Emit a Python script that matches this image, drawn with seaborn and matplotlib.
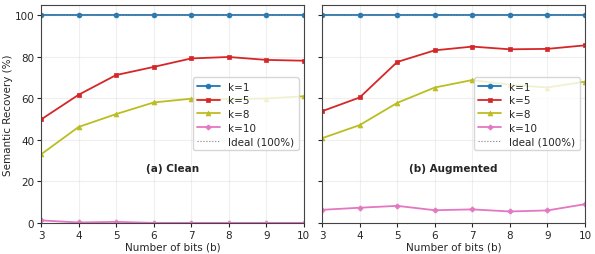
import numpy as np
import pandas as pd
import matplotlib
matplotlib.use("Agg")
import matplotlib.pyplot as plt
import seaborn as sns

sns.set_style("ticks")
plt.rcParams['font.family'] = ['DejaVu Sans']

# ---------------- DATA ----------------
bits = [3, 4, 5, 6, 7, 8, 9, 10]

clean_k1 = [100, 100, 100, 100, 100, 100, 100, 100]
clean_k5 = [49.8, 61.7, 71.2, 75.1, 79.2, 79.9, 78.5, 78.1]
clean_k8 = [33.0, 46.2, 52.4, 58.0, 59.8, 59.6, 59.9, 61.0]
clean_k10 = [1.2, 0.2, 0.5, 0.0, 0.0, 0.0, 0.0, 0.0]

aug_k1 = [100, 100, 100, 100, 100, 100, 100, 100]
aug_k5 = [53.8, 60.4, 77.5, 83.1, 84.9, 83.6, 83.8, 85.5]
aug_k8 = [40.8, 47.1, 57.8, 65.2, 68.8, 66.5, 65.2, 68.0]
aug_k10 = [6.3, 7.3, 8.2, 6.1, 6.5, 5.5, 6.0, 9.0]

labels = ["k=1", "k=5", "k=8", "k=10"]
colors = ["#1f77b4", "#d62728", "#bcbd22", "#e377c2"]
markers = ["o", "s", "^", "P"]
panels = ["(a) Clean", "(b) Augmented"]

fig, axes = plt.subplots(1, 2, figsize=(5.95, 2.55), dpi=100, sharey=True)

for ax, title, series in zip(axes, panels,
                             [[clean_k1, clean_k5, clean_k8, clean_k10],
                              [aug_k1, aug_k5, aug_k8, aug_k10]]):
    for vals, lab, c, m in zip(series, labels, colors, markers):
        df = pd.DataFrame({"b": bits, "v": vals})
        sns.lineplot(data=df, x="b", y="v", ax=ax, color=c, marker=m,
                     markersize=3.5, linewidth=1.3, markeredgewidth=0.5,
                     markeredgecolor=c, label=lab)
    ax.axhline(100, color="gray", linestyle=":", linewidth=0.8, label="Ideal (100%)")
    ax.set_xlim(3, 10)
    ax.set_ylim(0, 105)
    ax.set_xticks(bits)
    ax.set_yticks([0, 20, 40, 60, 80, 100])
    ax.grid(True, alpha=0.3)
    ax.tick_params(labelsize=7.5, length=3, pad=2)
    for s in ax.spines.values():
        s.set_color("#444444")
    ax.set_xlabel("Number of bits (b)", fontsize=7.5, labelpad=1)
    ax.set_ylabel("")
    ax.text(0.5, 0.25, title, transform=ax.transAxes, ha="center", va="center",
            fontsize=7.5, fontweight="bold")
    ax.legend(loc="center right", fontsize=7.5, framealpha=0.8,
              handlelength=2.2, borderpad=0.4, labelspacing=0.35)

axes[0].set_ylabel("Semantic Recovery (%)", fontsize=7.5, labelpad=1)

plt.subplots_adjust(left=0.069, right=0.983, top=0.977, bottom=0.122, wspace=0.07)
plt.savefig("out.png", dpi=100)
plt.close()
